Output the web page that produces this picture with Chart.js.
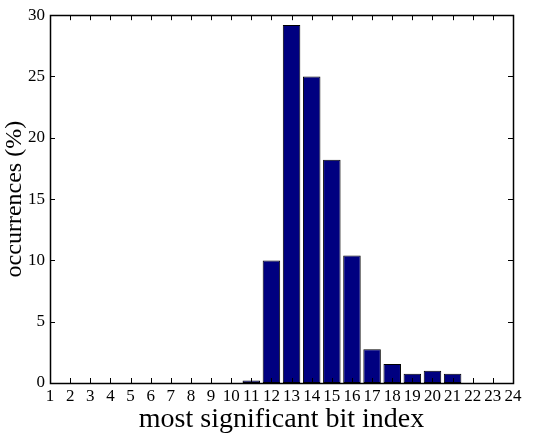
<!DOCTYPE html>
<html>
<head>
<meta charset="utf-8">
<script src="https://cdn.jsdelivr.net/npm/chart.js@4/dist/chart.umd.min.js"></script>
<style>
  html, body { margin: 0; padding: 0; background: #fff; }
  #wrap { width: 538px; height: 435px; }
</style>
</head>
<body>
<div id="wrap"><canvas id="bitChart"></canvas></div>
<script>
// valori
const bitIndex = [1, 2, 3, 4, 5, 6, 7, 8, 9, 10, 11, 12, 13, 14, 15, 16, 17, 18, 19, 20, 21, 22, 23, 24];
const occurrences = [0, 0, 0, 0, 0, 0, 0, 0, 0, 0, 0.2, 10.0, 29.2, 25.0, 18.2, 10.4, 2.75, 1.55, 0.75, 1.0, 0.75, 0, 0, 0];
const yTicks = [0, 5, 10, 15, 20, 25, 30];

const serif = "'Liberation Serif', 'DejaVu Serif', serif";

// riquadro + tacche verso l'interno (stile matlab)
const frameTicks = {
    id: 'frameTicks',
    afterDatasetsDraw(chart) {
        const { ctx, chartArea: a, scales: { x, y } } = chart;
        const L = 5;
        ctx.save();
        ctx.strokeStyle = '#000';
        ctx.lineWidth = 1;
        ctx.beginPath();
        x.ticks.forEach(t => {
            const px = Math.round(x.getPixelForValue(t.value)) + 0.5;
            ctx.moveTo(px, a.bottom); ctx.lineTo(px, a.bottom - L);
            ctx.moveTo(px, a.top); ctx.lineTo(px, a.top + L);
        });
        y.ticks.forEach(t => {
            const py = Math.round(y.getPixelForValue(t.value)) + 0.5;
            ctx.moveTo(a.left, py); ctx.lineTo(a.left + L, py);
            ctx.moveTo(a.right, py); ctx.lineTo(a.right - L, py);
        });
        ctx.stroke();
        ctx.lineWidth = 1.5;
        ctx.strokeRect(Math.round(a.left) + 0.5, Math.round(a.top) + 0.5, Math.round(a.width), Math.round(a.height));
        ctx.restore();
    }
};

Chart.defaults.color = '#000';

const ctx = document.getElementById('bitChart').getContext('2d');
const bitChart = new Chart(ctx, {
    type: 'bar',
    data: {
        datasets: [{
            label: 'occurrences',
            data: bitIndex.map((b, i) => ({ x: b, y: occurrences[i] })),
            backgroundColor: '#000080',
            borderColor: '#000',
            borderWidth: 1,
            borderSkipped: false,
            barPercentage: 0.87,
            categoryPercentage: 1.0
        }]
    },
    options: {
        responsive: true,
        maintainAspectRatio: false,
        animation: false,
        layout: { padding: { top: 14, right: 25, left: 0, bottom: 0 } },
        plugins: {
            legend: { display: false },
            tooltip: { enabled: false }
        },
        scales: {
            x: {
                type: 'linear',
                min: 1,
                max: 24,
                offset: false,
                afterFit: s => { s.height = 52; },
                afterBuildTicks: s => { s.ticks = bitIndex.map(v => ({ value: v })); },
                grid: { display: false, drawTicks: false },
                border: { display: false },
                ticks: {
                    autoSkip: false,
                    maxRotation: 0,
                    padding: 3,
                    font: { family: serif, size: 17 }
                },
                title: {
                    display: true,
                    text: 'most significant bit index',
                    font: { family: serif, size: 28, lineHeight: 1.1 },
                    padding: 0
                }
            },
            y: {
                min: 0,
                max: 30,
                afterFit: s => { s.width = 50; },
                afterBuildTicks: s => { s.ticks = yTicks.map(v => ({ value: v })); },
                grid: { display: false, drawTicks: false },
                border: { display: false },
                ticks: {
                    padding: 5,
                    font: { family: serif, size: 17 }
                },
                title: {
                    display: true,
                    text: 'occurrences (%)',
                    font: { family: serif, size: 24, lineHeight: 1.25 },
                    padding: 0
                }
            }
        }
    },
    plugins: [frameTicks]
});
</script>
</body>
</html>
